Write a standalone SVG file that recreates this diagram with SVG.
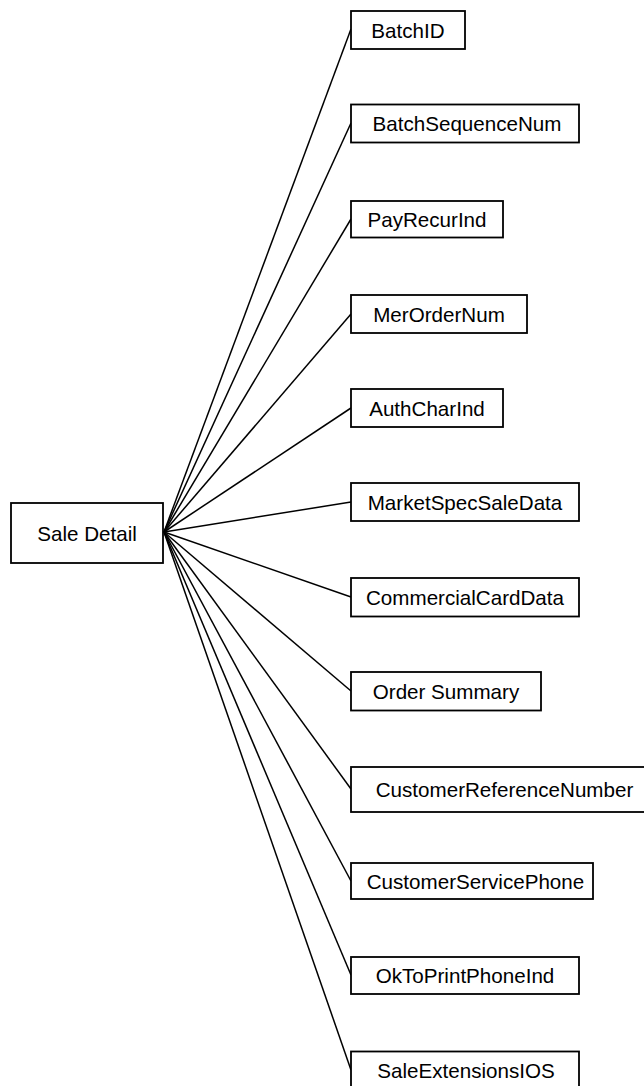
<svg xmlns="http://www.w3.org/2000/svg" width="644" height="1086" viewBox="0 0 644 1086">
<style>
.box{fill:#fff;stroke:#000;stroke-width:1.8}
.lbl{font-family:"Liberation Sans",Arial,sans-serif;font-size:20.6px;fill:#000;text-anchor:middle}
.conn line{stroke:#000;stroke-width:1.5}
</style>
<rect width="644" height="1086" fill="#fff"/>
<g id="connectors" class="conn">
<line x1="164" y1="532" x2="351" y2="29"/>
<line x1="164" y1="532" x2="351" y2="123"/>
<line x1="164" y1="532" x2="351" y2="219"/>
<line x1="164" y1="532" x2="351" y2="314"/>
<line x1="164" y1="532" x2="351" y2="408"/>
<line x1="164" y1="532" x2="351" y2="502"/>
<line x1="164" y1="532" x2="351" y2="597"/>
<line x1="164" y1="532" x2="351" y2="691"/>
<line x1="164" y1="532" x2="351" y2="789"/>
<line x1="164" y1="532" x2="351" y2="881"/>
<line x1="164" y1="532" x2="351" y2="975"/>
<line x1="164" y1="532" x2="351" y2="1070"/>
</g>
<g id="sale-detail"><rect class="box" x="11" y="503" width="152" height="60"/><text class="lbl" x="87" y="540.5">Sale Detail</text></g>
<g id="batch-id"><rect class="box" x="351" y="11" width="114" height="38"/><text class="lbl" x="408" y="37.5">BatchID</text></g>
<g id="batch-sequence-num"><rect class="box" x="351" y="104.5" width="228" height="38"/><text class="lbl" x="467" y="131">BatchSequenceNum</text></g>
<g id="pay-recur-ind"><rect class="box" x="351" y="201" width="152" height="36.5"/><text class="lbl" x="427" y="226.5">PayRecurInd</text></g>
<g id="mer-order-num"><rect class="box" x="351" y="295" width="176" height="38"/><text class="lbl" x="439" y="321.5">MerOrderNum</text></g>
<g id="auth-char-ind"><rect class="box" x="351" y="389" width="152" height="38"/><text class="lbl" x="427" y="415.5">AuthCharInd</text></g>
<g id="market-spec-sale-data"><rect class="box" x="351" y="483" width="228" height="38"/><text class="lbl" x="465" y="509.5">MarketSpecSaleData</text></g>
<g id="commercial-card-data"><rect class="box" x="351" y="578" width="228" height="38.5"/><text class="lbl" x="465" y="604.5">CommercialCardData</text></g>
<g id="order-summary"><rect class="box" x="351" y="672" width="190" height="38.5"/><text class="lbl" x="446" y="698.5">Order Summary</text></g>
<g id="customer-reference-number"><rect class="box" x="351" y="767" width="308" height="45"/><text class="lbl" x="504.5" y="797">CustomerReferenceNumber</text></g>
<g id="customer-service-phone"><rect class="box" x="351" y="863" width="242" height="36"/><text class="lbl" x="475.5" y="888.5">CustomerServicePhone</text></g>
<g id="ok-to-print-phone-ind"><rect class="box" x="351" y="957" width="228" height="37"/><text class="lbl" x="465" y="983">OkToPrintPhoneInd</text></g>
<g id="sale-extensions-ios"><rect class="box" x="351" y="1051.5" width="228" height="45"/><text class="lbl" x="466" y="1078">SaleExtensionsIOS</text></g>
</svg>
